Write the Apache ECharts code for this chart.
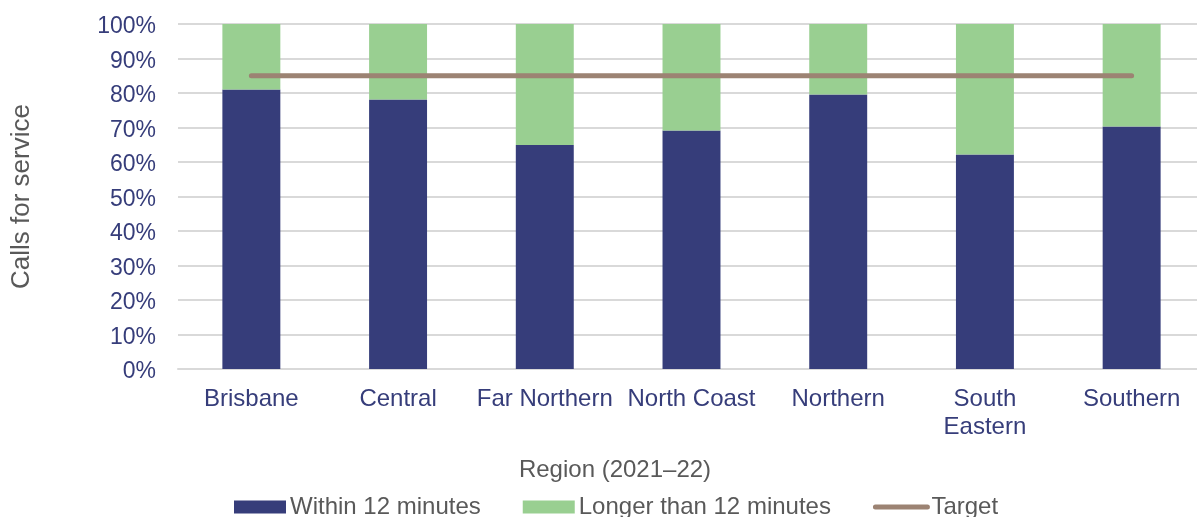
<!DOCTYPE html>
<html>
<head>
<meta charset="utf-8">
<script src="https://cdn.jsdelivr.net/npm/echarts@6/dist/echarts.min.js"></script>
<style>
  html, body { margin: 0; padding: 0; background: #ffffff; overflow: hidden; }
  /* plot area runs slightly past the right edge of the window */
  #chart { width: 1205px; height: 517px; }
</style>
</head>
<body>
<div id="chart"></div>
<script>
// Share of calls for service answered within / beyond 12 minutes, by region
const regions = ['Brisbane', 'Central', 'Far Northern', 'North Coast', 'Northern', 'South Eastern', 'Southern'];
const withinTwelve = [81.0, 78.1, 64.9, 69.1, 79.6, 62.2, 70.3];
const longerThanTwelve = [19.0, 21.9, 35.1, 30.9, 20.4, 37.8, 29.7];
const target = [85, 85, 85, 85, 85, 85, 85];
const yTicks = [0, 10, 20, 30, 40, 50, 60, 70, 80, 90, 100];

const NAVY = '#363D7A';
const GREEN = '#99CF91';
const TAUPE = '#9C8373';
const GREY_TEXT = '#595959';
const FONT = '"Liberation Sans", Arial, sans-serif';

const chart = echarts.init(document.getElementById('chart'), null, { renderer: 'canvas' });

chart.setOption({
  animation: false,
  textStyle: { fontFamily: FONT },
  grid: { left: 178, right: 0, top: 24, bottom: 148, containLabel: false },
  xAxis: {
    type: 'category',
    data: regions,
    name: 'Region (2021–22)',
    nameLocation: 'middle',
    nameGap: 89,
    nameTextStyle: { color: GREY_TEXT, fontSize: 24, fontFamily: FONT, padding: [0, 153, 0, 0] },
    axisLine: { show: true, lineStyle: { color: '#D9D9D9', width: 2 } },
    axisTick: { show: false },
    axisLabel: {
      color: NAVY,
      fontSize: 24,
      fontFamily: FONT,
      margin: 16,
      lineHeight: 28,
      interval: 0,
      formatter: function (v) { return v === 'South Eastern' ? 'South\nEastern' : v; }
    }
  },
  yAxis: {
    type: 'value',
    min: yTicks[0],
    max: yTicks[yTicks.length - 1],
    interval: yTicks[1] - yTicks[0],
    name: 'Calls for service',
    nameLocation: 'middle',
    nameGap: 143,
    nameTextStyle: { color: GREY_TEXT, fontSize: 26, fontFamily: FONT },
    axisLine: { show: false },
    axisTick: { show: false },
    splitLine: { lineStyle: { color: '#D9D9D9', width: 2 } },
    axisLabel: {
      margin: 22,
      formatter: '{pct|{value}%}',
      rich: {
        pct: {
          color: NAVY,
          fontSize: 23,
          fontFamily: FONT,
          padding: [6, 0, 0, 0]
        }
      }
    }
  },
  legend: {
    bottom: -2,
    left: 234,
    padding: 0,
    itemWidth: 52,
    itemHeight: 13,
    itemGap: 42,
    textStyle: { color: GREY_TEXT, fontSize: 24, fontFamily: FONT, padding: [0, 0, 0, -1] },
    data: [
      { name: 'Within 12 minutes', icon: 'rect' },
      { name: 'Longer than 12 minutes', icon: 'rect' },
      {
        name: 'Target',
        itemStyle: { opacity: 0 },
        lineStyle: { width: 5, cap: 'round', color: TAUPE }
      }
    ]
  },
  series: [
    {
      name: 'Within 12 minutes',
      type: 'bar',
      stack: 'calls',
      barWidth: '39.5%',
      itemStyle: { color: NAVY },
      data: withinTwelve
    },
    {
      name: 'Longer than 12 minutes',
      type: 'bar',
      stack: 'calls',
      barWidth: '39.5%',
      itemStyle: { color: GREEN },
      data: longerThanTwelve
    },
    {
      name: 'Target',
      type: 'line',
      data: target,
      symbol: 'none',
      lineStyle: { color: TAUPE, width: 5, cap: 'round' },
      itemStyle: { color: TAUPE },
      z: 5
    }
  ]
});
</script>
</body>
</html>
